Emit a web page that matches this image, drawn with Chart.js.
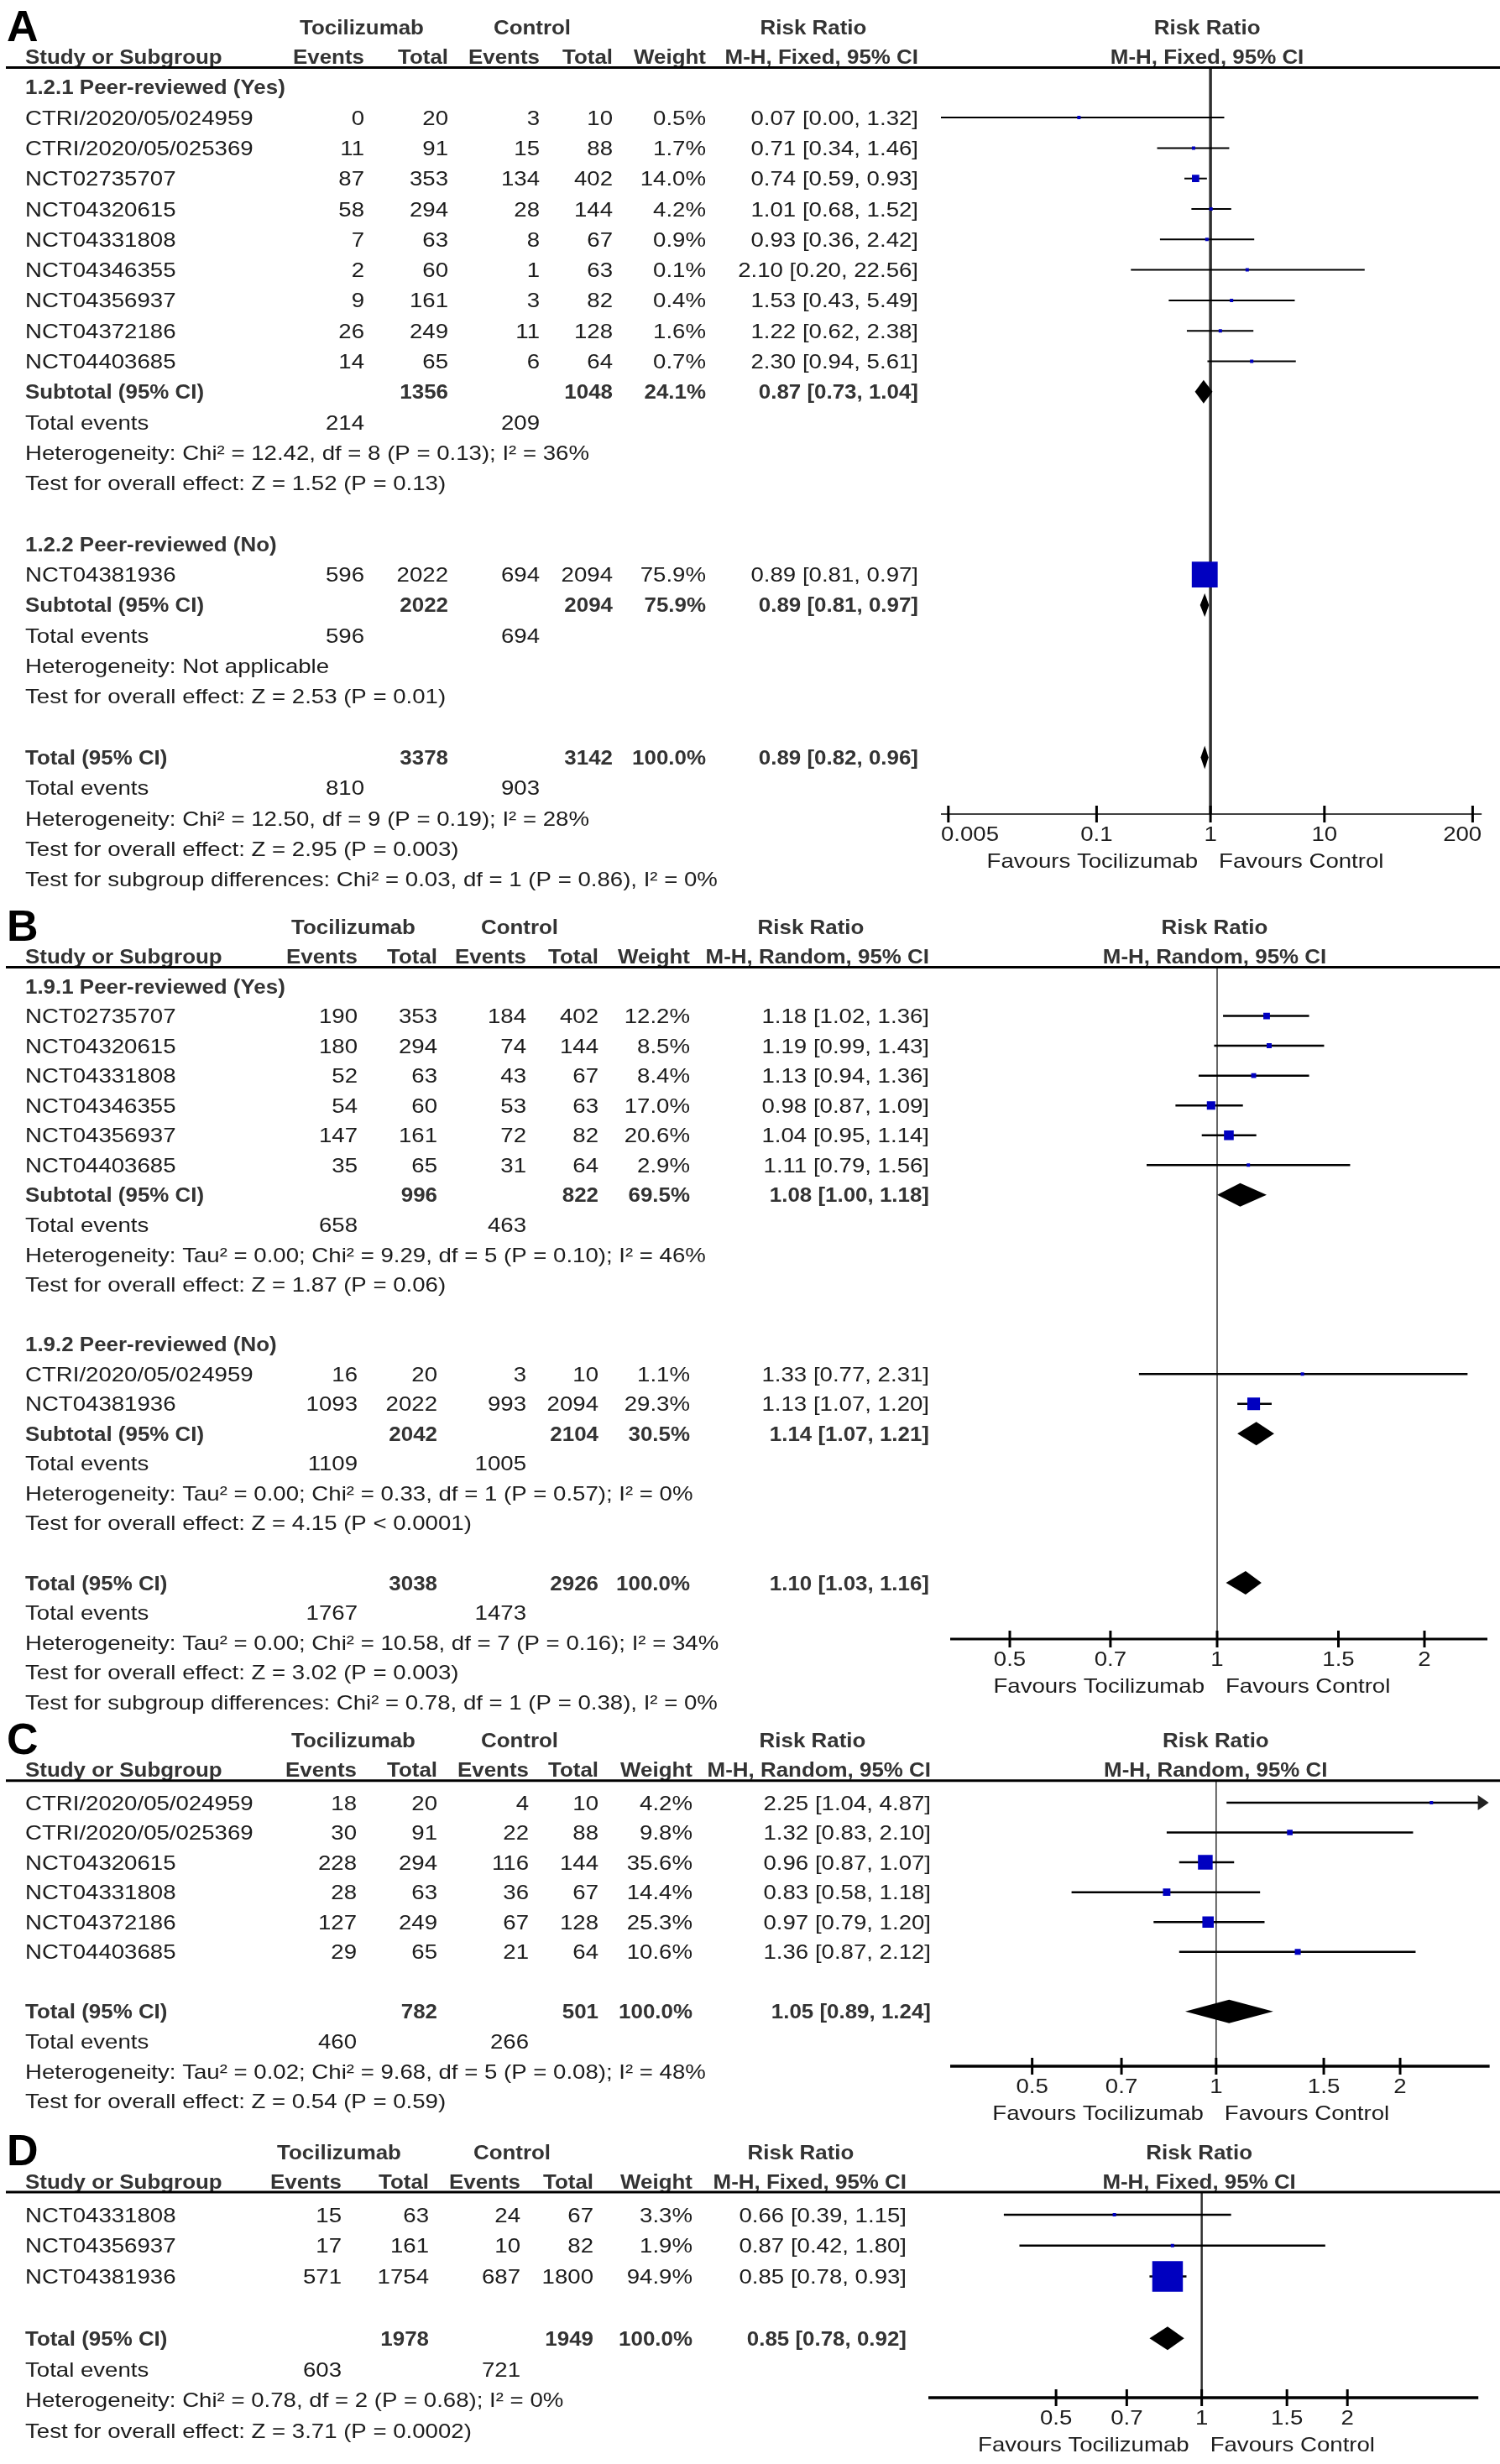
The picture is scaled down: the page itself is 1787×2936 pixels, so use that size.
<!DOCTYPE html>
<html>
<head>
<meta charset="utf-8">
<title>Tocilizumab forest plots</title>
<script src="https://cdn.jsdelivr.net/npm/chart.js@4.4.1/dist/chart.umd.min.js"></script>
<style>
  html, body { margin:0; padding:0; background:#ffffff; }
  #page { position:relative; width:1787px; height:2936px; overflow:hidden; background:#ffffff; }
  #page canvas { position:absolute; left:0; top:0; }
</style>
</head>
<body>
<div id="page">
  <canvas id="chartA"></canvas>
  <canvas id="chartB"></canvas>
  <canvas id="chartC"></canvas>
  <canvas id="chartD"></canvas>
</div>
<script>
// ================= DATA =================
// ---- Panel A (M-H, Fixed) ----
const A_studies     = ["CTRI/2020/05/024959","CTRI/2020/05/025369","NCT02735707","NCT04320615","NCT04331808","NCT04346355","NCT04356937","NCT04372186","NCT04403685","NCT04381936"];
const A_subgroupOf  = [0,0,0,0,0,0,0,0,0,1];
const A_tocEvents   = [0,11,87,58,7,2,9,26,14,596];
const A_tocTotal    = [20,91,353,294,63,60,161,249,65,2022];
const A_ctlEvents   = [3,15,134,28,8,1,3,11,6,694];
const A_ctlTotal    = [10,88,402,144,67,63,82,128,64,2094];
const A_weight      = [0.5,1.7,14.0,4.2,0.9,0.1,0.4,1.6,0.7,75.9];
const A_rr          = [0.07,0.71,0.74,1.01,0.93,2.10,1.53,1.22,2.30,0.89];
const A_lo          = [0.00,0.34,0.59,0.68,0.36,0.20,0.43,0.62,0.94,0.81];
const A_hi          = [1.32,1.46,0.93,1.52,2.42,22.56,5.49,2.38,5.61,0.97];
const A_subgroups   = ["1.2.1 Peer-reviewed (Yes)","1.2.2 Peer-reviewed (No)"];
const A_subTocTotal = [1356,2022];
const A_subCtlTotal = [1048,2094];
const A_subWeight   = [24.1,75.9];
const A_subRR       = [0.87,0.89];
const A_subLo       = [0.73,0.81];
const A_subHi       = [1.04,0.97];
const A_subTocEvents= [214,596];
const A_subCtlEvents= [209,694];
const A_subHet      = ["Heterogeneity: Chi² = 12.42, df = 8 (P = 0.13); I² = 36%","Heterogeneity: Not applicable"];
const A_subTest     = ["Test for overall effect: Z = 1.52 (P = 0.13)","Test for overall effect: Z = 2.53 (P = 0.01)"];
const A_totTotals   = [3378,3142];
const A_totEvents   = [810,903];
const A_totWeight   = 100.0;
const A_totCI       = [0.89,0.82,0.96];
const A_totNotes    = ["Heterogeneity: Chi² = 12.50, df = 9 (P = 0.19); I² = 28%","Test for overall effect: Z = 2.95 (P = 0.003)","Test for subgroup differences: Chi² = 0.03, df = 1 (P = 0.86), I² = 0%"];
const A_ticks       = [0.005,0.1,1,10,200];
const A_tickLabels  = ["0.005","0.1","1","10","200"];

// ---- Panel B (M-H, Random) ----
const B_studies     = ["NCT02735707","NCT04320615","NCT04331808","NCT04346355","NCT04356937","NCT04403685","CTRI/2020/05/024959","NCT04381936"];
const B_subgroupOf  = [0,0,0,0,0,0,1,1];
const B_tocEvents   = [190,180,52,54,147,35,16,1093];
const B_tocTotal    = [353,294,63,60,161,65,20,2022];
const B_ctlEvents   = [184,74,43,53,72,31,3,993];
const B_ctlTotal    = [402,144,67,63,82,64,10,2094];
const B_weight      = [12.2,8.5,8.4,17.0,20.6,2.9,1.1,29.3];
const B_rr          = [1.18,1.19,1.13,0.98,1.04,1.11,1.33,1.13];
const B_lo          = [1.02,0.99,0.94,0.87,0.95,0.79,0.77,1.07];
const B_hi          = [1.36,1.43,1.36,1.09,1.14,1.56,2.31,1.20];
const B_subgroups   = ["1.9.1 Peer-reviewed (Yes)","1.9.2 Peer-reviewed (No)"];
const B_subTocTotal = [996,2042];
const B_subCtlTotal = [822,2104];
const B_subWeight   = [69.5,30.5];
const B_subRR       = [1.08,1.14];
const B_subLo       = [1.00,1.07];
const B_subHi       = [1.18,1.21];
const B_subTocEvents= [658,1109];
const B_subCtlEvents= [463,1005];
const B_subHet      = ["Heterogeneity: Tau² = 0.00; Chi² = 9.29, df = 5 (P = 0.10); I² = 46%","Heterogeneity: Tau² = 0.00; Chi² = 0.33, df = 1 (P = 0.57); I² = 0%"];
const B_subTest     = ["Test for overall effect: Z = 1.87 (P = 0.06)","Test for overall effect: Z = 4.15 (P < 0.0001)"];
const B_totTotals   = [3038,2926];
const B_totEvents   = [1767,1473];
const B_totWeight   = 100.0;
const B_totCI       = [1.10,1.03,1.16];
const B_totNotes    = ["Heterogeneity: Tau² = 0.00; Chi² = 10.58, df = 7 (P = 0.16); I² = 34%","Test for overall effect: Z = 3.02 (P = 0.003)","Test for subgroup differences: Chi² = 0.78, df = 1 (P = 0.38), I² = 0%"];

// ---- Panel C (M-H, Random) ----
const C_studies     = ["CTRI/2020/05/024959","CTRI/2020/05/025369","NCT04320615","NCT04331808","NCT04372186","NCT04403685"];
const C_tocEvents   = [18,30,228,28,127,29];
const C_tocTotal    = [20,91,294,63,249,65];
const C_ctlEvents   = [4,22,116,36,67,21];
const C_ctlTotal    = [10,88,144,67,128,64];
const C_weight      = [4.2,9.8,35.6,14.4,25.3,10.6];
const C_rr          = [2.25,1.32,0.96,0.83,0.97,1.36];
const C_lo          = [1.04,0.83,0.87,0.58,0.79,0.87];
const C_hi          = [4.87,2.10,1.07,1.18,1.20,2.12];
const C_totTotals   = [782,501];
const C_totEvents   = [460,266];
const C_totWeight   = 100.0;
const C_totCI       = [1.05,0.89,1.24];
const C_totNotes    = ["Heterogeneity: Tau² = 0.02; Chi² = 9.68, df = 5 (P = 0.08); I² = 48%","Test for overall effect: Z = 0.54 (P = 0.59)"];

// ---- Panel D (M-H, Fixed) ----
const D_studies     = ["NCT04331808","NCT04356937","NCT04381936"];
const D_tocEvents   = [15,17,571];
const D_tocTotal    = [63,161,1754];
const D_ctlEvents   = [24,10,687];
const D_ctlTotal    = [67,82,1800];
const D_weight      = [3.3,1.9,94.9];
const D_rr          = [0.66,0.87,0.85];
const D_lo          = [0.39,0.42,0.78];
const D_hi          = [1.15,1.80,0.93];
const D_totTotals   = [1978,1949];
const D_totEvents   = [603,721];
const D_totWeight   = 100.0;
const D_totCI       = [0.85,0.78,0.92];
const D_totNotes    = ["Heterogeneity: Chi² = 0.78, df = 2 (P = 0.68); I² = 0%","Test for overall effect: Z = 3.71 (P = 0.0002)"];

const BCD_ticks      = [0.5,0.7,1,1.5,2];
const BCD_tickLabels = ["0.5","0.7","1","1.5","2"];

const groupLabels  = ["Tocilizumab","Control"];
const colLabels    = ["Study or Subgroup","Events","Total","Events","Total","Weight"];
const effectLabel  = "Risk Ratio";
const methodFixed  = "M-H, Fixed, 95% CI";
const methodRandom = "M-H, Random, 95% CI";
const favourLabels = ["Favours Tocilizumab","Favours Control"];

// ================= RENDERING =================
const W = 1787, H = 2936;
const FONT = '"Liberation Sans", Arial, Helvetica, sans-serif';
const FS = 24, SX_REG = 1.15, SX_BOLD = 1.08;
const INK = '#1c1c1c', INK_BOLD = '#333333', BLUE = '#0000C0';

function setFont(ctx, bold, size) { ctx.font = (bold ? 'bold ' : '') + (size || FS) + 'px ' + FONT; }
function text(ctx, s, x, yc, align, bold) {
  ctx.save();
  setFont(ctx, bold);
  ctx.fillStyle = bold ? INK_BOLD : INK;
  ctx.textAlign = align;
  ctx.textBaseline = 'alphabetic';
  ctx.translate(x, yc + FS * 0.358);
  ctx.scale(bold ? SX_BOLD : SX_REG, 1);
  ctx.fillText(String(s), 0, 0);
  ctx.restore();
}
function textW(ctx, s, bold) {
  ctx.save(); setFont(ctx, bold);
  const w = ctx.measureText(String(s)).width * (bold ? SX_BOLD : SX_REG);
  ctx.restore(); return w;
}
function seg(ctx, x1, y1, x2, y2, lw, col) {
  ctx.save(); ctx.strokeStyle = col; ctx.lineWidth = lw; ctx.lineCap = 'butt';
  ctx.beginPath(); ctx.moveTo(x1, y1); ctx.lineTo(x2, y2); ctx.stroke(); ctx.restore();
}
const f2 = v => v.toFixed(2);
const ciStr = (e, l, h) => f2(e) + ' [' + f2(l) + ', ' + f2(h) + ']';
const wStr = w => w.toFixed(1) + '%';

function buildRows(d) {
  const rows = [];
  const studyRow = i => ({kind:'study', name:d.studies[i], e1:d.tocEvents[i], t1:d.tocTotal[i], e2:d.ctlEvents[i], t2:d.ctlTotal[i], w:d.weight[i], est:d.rr[i], lo:d.lo[i], hi:d.hi[i]});
  if (d.subgroups) {
    d.subgroups.forEach((g, gi) => {
      rows.push({kind:'section', text:g});
      d.studies.forEach((s, i) => { if (d.subgroupOf[i] === gi) rows.push(studyRow(i)); });
      rows.push({kind:'summary', label:'Subtotal (95% CI)', t1:d.subTocTotal[gi], t2:d.subCtlTotal[gi], w:d.subWeight[gi], est:d.subRR[gi], lo:d.subLo[gi], hi:d.subHi[gi]});
      rows.push({kind:'events', e1:d.subTocEvents[gi], e2:d.subCtlEvents[gi]});
      rows.push({kind:'note', text:d.subHet[gi]});
      rows.push({kind:'note', text:d.subTest[gi]});
      rows.push({kind:'blank'});
    });
  } else {
    d.studies.forEach((s, i) => rows.push(studyRow(i)));
    rows.push({kind:'blank'});
  }
  rows.push({kind:'summary', label:'Total (95% CI)', t1:d.totTotals[0], t2:d.totTotals[1], w:d.totWeight, est:d.totCI[0], lo:d.totCI[1], hi:d.totCI[2]});
  rows.push({kind:'events', e1:d.totEvents[0], e2:d.totEvents[1]});
  d.totNotes.forEach(t => rows.push({kind:'note', text:t}));
  return rows;
}

function makeForest(canvasId, d, L) {
  const rows = buildRows(d);
  const pts = [], radii = [];
  rows.forEach((r, k) => {
    if (r.kind === 'study') {
      pts.push({x: r.est, y: k});
      const side = Math.max(4, 1.2 * Math.pow(r.w, 0.75));
      radii.push(side / Math.SQRT2);
    }
  });
  const t0 = d.ticks[0], tN = d.ticks[d.ticks.length - 1];
  const ppd = (L.tickHiPx - L.tickLoPx) / Math.log10(tN / t0);
  const xmin = t0 * Math.pow(10, -(L.tickLoPx - L.axL) / ppd);
  const xmax = tN * Math.pow(10, (L.axR - L.tickHiPx) / ppd);
  const ymin = (L.lineY - L.row0) / L.pitch;
  const ymax = (L.axisY - L.row0) / L.pitch;

  const plugin = {
    id: 'forest_' + canvasId,
    beforeDatasetsDraw(chart) {
      const ctx = chart.ctx, xs = chart.scales.x, ys = chart.scales.y, ca = chart.chartArea;
      const x1 = xs.getPixelForValue(1);
      seg(ctx, x1, ca.top, x1, ca.bottom, L.st.vline, '#303030');
      rows.forEach((r, k) => {
        if (r.kind !== 'study') return;
        const y = ys.getPixelForValue(k);
        const xa = r.lo <= xs.min ? ca.left : xs.getPixelForValue(r.lo);
        const over = r.hi > xs.max;
        const xb = over ? ca.right - 1 : xs.getPixelForValue(r.hi);
        seg(ctx, xa, y, over ? xb - 10 : xb, y, L.st.whisker, '#000');
        if (over) {
          ctx.save(); ctx.fillStyle = '#222';
          ctx.beginPath(); ctx.moveTo(xb, y); ctx.lineTo(xb - 13, y - 9); ctx.lineTo(xb - 13, y + 9); ctx.closePath(); ctx.fill(); ctx.restore();
        }
      });
    },
    afterDatasetsDraw(chart) {
      const ctx = chart.ctx, xs = chart.scales.x, ys = chart.scales.y, ca = chart.chartArea;
      // summary diamonds
      rows.forEach((r, k) => {
        if (r.kind !== 'summary') return;
        const y = ys.getPixelForValue(k);
        const xl = xs.getPixelForValue(r.lo), xc = xs.getPixelForValue(r.est), xr = xs.getPixelForValue(r.hi);
        ctx.save(); ctx.fillStyle = '#000';
        ctx.beginPath(); ctx.moveTo(xl, y); ctx.lineTo(xc, y - 14); ctx.lineTo(xr, y); ctx.lineTo(xc, y + 14); ctx.closePath(); ctx.fill(); ctx.restore();
      });
      // x axis
      const ay = ca.bottom;
      seg(ctx, ca.left, ay, ca.right, ay, L.st.axis, '#000');
      d.ticks.forEach((t, j) => {
        const px = xs.getPixelForValue(t);
        seg(ctx, px, ay - 10, px, ay + 10, L.st.tick, '#000');
        const lab = d.tickLabels[j];
        const w = textW(ctx, lab, false);
        let cx = px;
        if (cx - w / 2 < ca.left) cx = ca.left + w / 2;
        if (cx + w / 2 > ca.right) cx = ca.right - w / 2;
        text(ctx, lab, cx, ay + 23, 'center', false);
      });
      const x1 = xs.getPixelForValue(1);
      text(ctx, favourLabels[0], x1 - 15, ay + 55, 'right', false);
      text(ctx, favourLabels[1], x1 + 10, ay + 55, 'left', false);

      // header
      const c = L.cols;
      const h1 = L.lineY - 48, h2 = L.lineY - 13;
      const pc = (ca.left + ca.right) / 2 - 5;
      ctx.save(); setFont(ctx, true, 52); ctx.fillStyle = '#000'; ctx.textAlign = 'left';
      ctx.fillText(L.letter, 8, L.lineY - 32); ctx.restore();
      text(ctx, groupLabels[0], L.hdr.toc, h1, 'center', true);
      text(ctx, groupLabels[1], L.hdr.ctl, h1, 'center', true);
      text(ctx, effectLabel, L.hdr.rr, h1, 'center', true);
      text(ctx, effectLabel, pc, h1, 'center', true);
      text(ctx, colLabels[0], c.name, h2, 'left', true);
      text(ctx, colLabels[1], c.ev1, h2, 'right', true);
      text(ctx, colLabels[2], c.tot1, h2, 'right', true);
      text(ctx, colLabels[3], c.ev2, h2, 'right', true);
      text(ctx, colLabels[4], c.tot2, h2, 'right', true);
      text(ctx, colLabels[5], c.wt, h2, 'right', true);
      text(ctx, d.method, c.ci, h2, 'right', true);
      text(ctx, d.method, pc, h2, 'center', true);
      seg(ctx, 7, L.lineY, W, L.lineY, 3, '#000');

      // table rows
      rows.forEach((r, k) => {
        const y = ys.getPixelForValue(k);
        if (r.kind === 'section') {
          text(ctx, r.text, c.name, y, 'left', true);
        } else if (r.kind === 'study') {
          text(ctx, r.name, c.name, y, 'left', false);
          text(ctx, r.e1, c.ev1, y, 'right', false);
          text(ctx, r.t1, c.tot1, y, 'right', false);
          text(ctx, r.e2, c.ev2, y, 'right', false);
          text(ctx, r.t2, c.tot2, y, 'right', false);
          text(ctx, wStr(r.w), c.wt, y, 'right', false);
          text(ctx, ciStr(r.est, r.lo, r.hi), c.ci, y, 'right', false);
        } else if (r.kind === 'summary') {
          text(ctx, r.label, c.name, y, 'left', true);
          text(ctx, r.t1, c.tot1, y, 'right', true);
          text(ctx, r.t2, c.tot2, y, 'right', true);
          text(ctx, wStr(r.w), c.wt, y, 'right', true);
          text(ctx, ciStr(r.est, r.lo, r.hi), c.ci, y, 'right', true);
        } else if (r.kind === 'events') {
          text(ctx, 'Total events', c.name, y, 'left', false);
          text(ctx, r.e1, c.ev1, y, 'right', false);
          text(ctx, r.e2, c.ev2, y, 'right', false);
        } else if (r.kind === 'note') {
          text(ctx, r.text, c.name, y, 'left', false);
        }
      });
    }
  };

  const cv = document.getElementById(canvasId);
  cv.width = W; cv.height = H; cv.style.width = W + 'px'; cv.style.height = H + 'px';
  return new Chart(cv.getContext('2d'), {
    type: 'scatter',
    data: { datasets: [{
      data: pts, pointStyle: 'rect', pointRadius: radii, pointHoverRadius: radii,
      backgroundColor: BLUE, borderColor: BLUE, borderWidth: 0
    }]},
    options: {
      responsive: false, maintainAspectRatio: false, animation: false, devicePixelRatio: 1, events: [],
      layout: { padding: { left: L.axL, right: W - L.axR, top: L.lineY, bottom: H - L.axisY } },
      scales: {
        x: { type: 'logarithmic', min: xmin, max: xmax, bounds: 'data', display: false },
        y: { type: 'linear', min: ymin, max: ymax, reverse: true, bounds: 'data', display: false }
      },
      plugins: { legend: { display: false }, tooltip: { enabled: false } }
    },
    plugins: [plugin]
  });
}

// ---- panel assemblies ----
makeForest('chartA', {
  studies:A_studies, subgroupOf:A_subgroupOf, tocEvents:A_tocEvents, tocTotal:A_tocTotal, ctlEvents:A_ctlEvents, ctlTotal:A_ctlTotal,
  weight:A_weight, rr:A_rr, lo:A_lo, hi:A_hi, subgroups:A_subgroups, subTocTotal:A_subTocTotal, subCtlTotal:A_subCtlTotal,
  subWeight:A_subWeight, subRR:A_subRR, subLo:A_subLo, subHi:A_subHi, subTocEvents:A_subTocEvents, subCtlEvents:A_subCtlEvents,
  subHet:A_subHet, subTest:A_subTest, totTotals:A_totTotals, totEvents:A_totEvents, totWeight:A_totWeight, totCI:A_totCI,
  totNotes:A_totNotes, ticks:A_ticks, tickLabels:A_tickLabels, method:methodFixed
}, {
  letter:'A', lineY:80.5, axisY:970, row0:103.8, pitch:36.3, axL:1121, axR:1778, tickLoPx:1130, tickHiPx:1767,
  cols:{name:30, ev1:434, tot1:534, ev2:643, tot2:730, wt:841, ci:1094}, hdr:{toc:431, ctl:634, rr:969},
  st:{vline:3.5, axis:1.5, tick:3, whisker:2}
});

makeForest('chartB', {
  studies:B_studies, subgroupOf:B_subgroupOf, tocEvents:B_tocEvents, tocTotal:B_tocTotal, ctlEvents:B_ctlEvents, ctlTotal:B_ctlTotal,
  weight:B_weight, rr:B_rr, lo:B_lo, hi:B_hi, subgroups:B_subgroups, subTocTotal:B_subTocTotal, subCtlTotal:B_subCtlTotal,
  subWeight:B_subWeight, subRR:B_subRR, subLo:B_subLo, subHi:B_subHi, subTocEvents:B_subTocEvents, subCtlEvents:B_subCtlEvents,
  subHet:B_subHet, subTest:B_subTest, totTotals:B_totTotals, totEvents:B_totEvents, totWeight:B_totWeight, totCI:B_totCI,
  totNotes:B_totNotes, ticks:BCD_ticks, tickLabels:BCD_tickLabels, method:methodRandom
}, {
  letter:'B', lineY:1152.5, axisY:1953, row0:1175, pitch:35.55, axL:1132, axR:1772, tickLoPx:1203, tickHiPx:1697,
  cols:{name:30, ev1:426, tot1:521, ev2:627, tot2:713, wt:822, ci:1107}, hdr:{toc:421, ctl:619, rr:966},
  st:{vline:1.5, axis:3, tick:3, whisker:2.5}
});

makeForest('chartC', {
  studies:C_studies, tocEvents:C_tocEvents, tocTotal:C_tocTotal, ctlEvents:C_ctlEvents, ctlTotal:C_ctlTotal,
  weight:C_weight, rr:C_rr, lo:C_lo, hi:C_hi, totTotals:C_totTotals, totEvents:C_totEvents, totWeight:C_totWeight, totCI:C_totCI,
  totNotes:C_totNotes, ticks:BCD_ticks, tickLabels:BCD_tickLabels, method:methodRandom
}, {
  letter:'C', lineY:2121.7, axisY:2462, row0:2148, pitch:35.55, axL:1132, axR:1777, tickLoPx:1230, tickHiPx:1670,
  cols:{name:30, ev1:425, tot1:521, ev2:630, tot2:713, wt:825, ci:1109}, hdr:{toc:421, ctl:619, rr:968},
  st:{vline:1.5, axis:3.5, tick:3, whisker:2.5}
});

makeForest('chartD', {
  studies:D_studies, tocEvents:D_tocEvents, tocTotal:D_tocTotal, ctlEvents:D_ctlEvents, ctlTotal:D_ctlTotal,
  weight:D_weight, rr:D_rr, lo:D_lo, hi:D_hi, totTotals:D_totTotals, totEvents:D_totEvents, totWeight:D_totWeight, totCI:D_totCI,
  totNotes:D_totNotes, ticks:BCD_ticks, tickLabels:BCD_tickLabels, method:methodFixed
}, {
  letter:'D', lineY:2612, axisY:2857, row0:2639, pitch:36.8, axL:1106, axR:1778, tickLoPx:1262, tickHiPx:1618,
  cols:{name:30, ev1:407, tot1:511, ev2:620, tot2:707, wt:825, ci:1080}, hdr:{toc:404, ctl:610, rr:954},
  st:{vline:2.5, axis:3.5, tick:3, whisker:2.5}
});
</script>
</body>
</html>
